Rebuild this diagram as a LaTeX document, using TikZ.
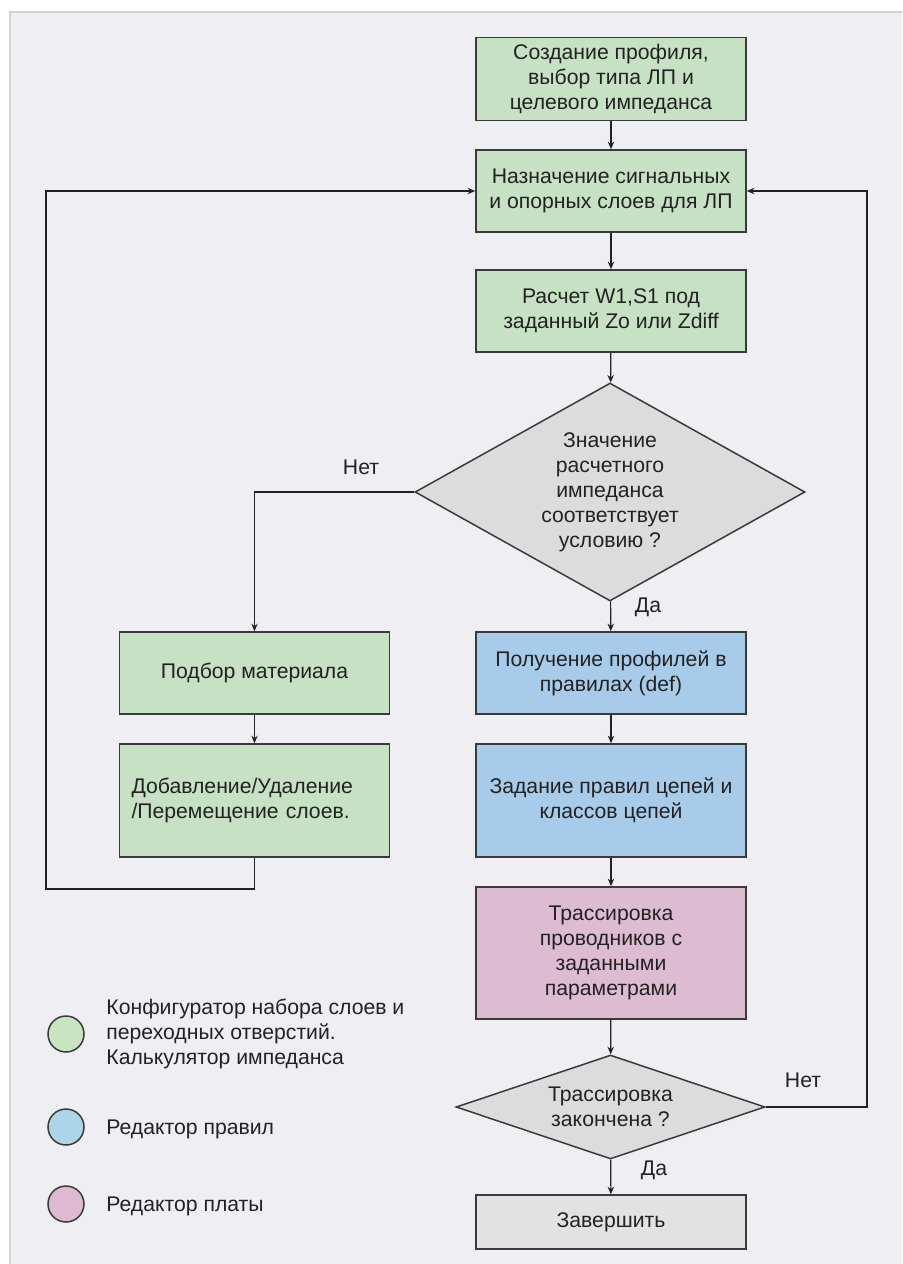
\documentclass[tikz,border=0pt]{standalone}
\usepackage{fontspec}
\setmainfont{Liberation Sans}
\usetikzlibrary{arrows.meta,shapes.geometric}
\definecolor{bg}{HTML}{EFEFF3}
\definecolor{frame}{HTML}{D2D2D6}
\definecolor{gbox}{HTML}{C6E1C4}
\definecolor{bbox}{HTML}{A8CBEA}
\definecolor{pbox}{HTML}{DDBBD0}
\definecolor{gray1}{HTML}{DCDCDC}
\definecolor{gray2}{HTML}{E2E2E2}
\definecolor{gcirc}{HTML}{C6E5C0}
\definecolor{bcirc}{HTML}{ADD5EA}
\definecolor{pcirc}{HTML}{DDB9D2}
\definecolor{ink}{HTML}{222222}
\definecolor{edge}{HTML}{3A3A3A}
\tikzset{
  base/.style={draw=edge, line width=0.75pt, text=ink, align=center,
    font=\fontsize{10.6}{12.5}\selectfont, inner sep=0pt},
  procbox/.style={base, rectangle, minimum width=135pt},
  greenbox/.style={procbox, fill=gbox},
  bluebox/.style={procbox, fill=bbox},
  pinkbox/.style={procbox, fill=pbox},
  graybox/.style={procbox, fill=gray2},
  decision/.style={base, diamond, fill=gray1},
  arr/.style={draw=ink, line width=0.6pt, -{Stealth[length=3.8pt,width=3.2pt]}},
  lbl/.style={text=ink, font=\fontsize{10.6}{12.5}\selectfont, inner sep=0pt},
  legcirc/.style={circle, draw=edge, line width=0.75pt, minimum size=18pt, inner sep=0pt},
  legtext/.style={lbl, anchor=west, align=left},
}
\begin{document}
\begin{tikzpicture}[x=0.5pt,y=-0.5pt]
\useasboundingbox (0,0) rectangle (902,1264);
\fill[white] (0,0) rectangle (902,1264);
\fill[bg] (10,12) rectangle (902,1264);
\draw[frame, line width=1pt] (10,1264) -- (10,12) -- (902,12);

% process column
\node[greenbox, minimum height=41.5pt] (b1) at (611,79) {Создание профиля,\\выбор типа ЛП и\\целевого импеданса};
\node[greenbox, minimum height=41pt] (b2) at (611,191) {Назначение сигнальных\\и опорных слоев для ЛП};
\node[greenbox, minimum height=41pt] (b3) at (611,311) {Расчет W1,S1 под\\заданный Zo или Zdiff};
\node[decision, aspect=1.79, minimum width=195pt, minimum height=109pt] (d1) at (610,492) {Значение\\расчетного\\импеданса\\соответствует\\условию ?};
\node[bluebox, minimum height=41pt] (b6) at (611,673) {Получение профилей в\\правилах (def)};
\node[bluebox, minimum height=56.5pt] (b7) at (611,800.5) {Задание правил цепей и\\классов цепей};
\node[pinkbox, minimum height=66pt] (b8) at (611,953) {Трассировка\\проводников с\\заданными\\параметрами};
\node[decision, aspect=2.97, minimum width=154.5pt, minimum height=52pt] (d2) at (610.5,1107) {Трассировка\\закончена ?};
\node[graybox, minimum height=27pt] (b9) at (611,1222) {Завершить};

% left column
\node[greenbox, minimum height=41pt] (b4) at (254.5,673) {Подбор материала};
\node[greenbox, minimum height=56.5pt, align=left, text width=123pt, inner xsep=6pt] (b5) at (254.5,800.5) {Добавление/Удаление\\/Перемещение слоев.};

% connectors
\draw[arr] (b1) -- (b2);
\draw[arr] (b2) -- (b3);
\draw[arr] (b3) -- (d1);
\draw[arr] (d1.west) -| (b4.north);
\draw[arr] (d1) -- (b6);
\draw[arr] (b4) -- (b5);
\draw[arr] (b6) -- (b7);
\draw[arr] (b7) -- (b8);
\draw[arr] (b8) -- (d2);
\draw[arr] (d2) -- (b9);
\coordinate (rtop) at (867,191);
\coordinate (rbot) at (867,1107);
\draw[arr] (d2.east) -- (rbot) -- (rtop) -- (b2.east);
\coordinate (lbot) at (46,889);
\coordinate (lmid) at (254.5,889);
\coordinate (ltop) at (46,191);
\draw[arr] (b5.south) -- (lmid) -- (lbot) -- (ltop) -- (b2.west);

% labels
\node[lbl] (l1) at (361,467) {Нет};
\node[lbl] (l2) at (648,607) {Да};
\node[lbl] (l3) at (803,1080) {Нет};
\node[lbl] (l4) at (654,1170) {Да};

% legend
\node[legcirc, fill=gcirc] (c1) at (66,1034) {};
\node[legcirc, fill=bcirc] (c2) at (66,1127) {};
\node[legcirc, fill=pcirc] (c3) at (66,1204) {};
\node[legtext] (t1) at (106,1034) {Конфигуратор набора слоев и\\переходных отверстий.\\Калькулятор импеданса};
\node[legtext] (t2) at (106,1129) {Редактор правил};
\node[legtext] (t3) at (106,1206) {Редактор платы};
\end{tikzpicture}
\end{document}
